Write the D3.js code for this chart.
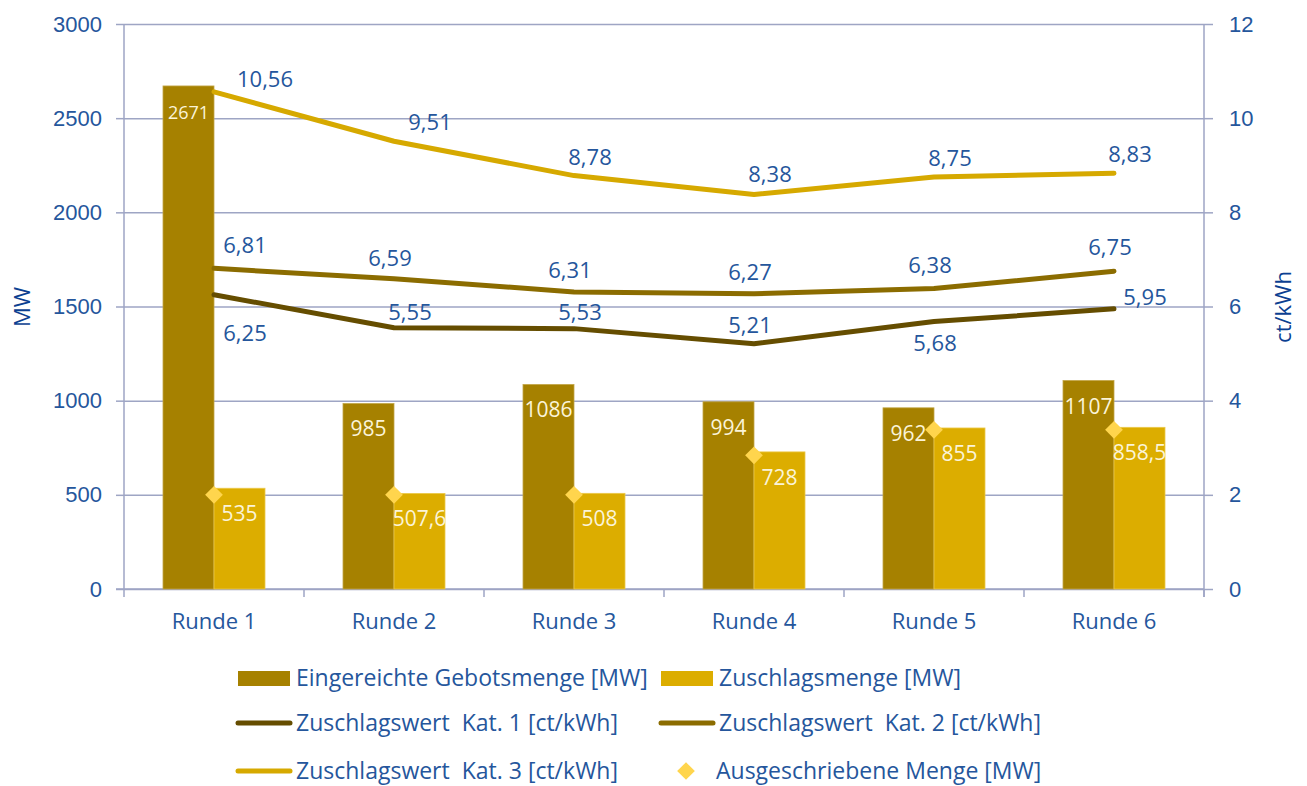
<!DOCTYPE html>
<html>
<head>
<meta charset="utf-8">
<script src="https://cdn.jsdelivr.net/npm/d3@7"></script>
<style>
  html, body { margin: 0; padding: 0; background: #fff; }
  svg { display: block; font-family: "Open Sans", sans-serif; }
</style>
</head>
<body>
<svg></svg>
<script>
var categories = ['Runde 1', 'Runde 2', 'Runde 3', 'Runde 4', 'Runde 5', 'Runde 6'];
var submitted = [2671, 985, 1086, 994, 962, 1107];
var awarded = [535, 507.6, 508, 728, 855, 858.5];
var tendered = [500, 500, 500, 710, 845, 845];
var kat1 = [6.25, 5.55, 5.53, 5.21, 5.68, 5.95];
var kat2 = [6.81, 6.59, 6.31, 6.27, 6.38, 6.75];
var kat3 = [10.56, 9.51, 8.78, 8.38, 8.75, 8.83];
var leftTicks = [0, 500, 1000, 1500, 2000, 2500, 3000];
var rightTicks = [0, 2, 4, 6, 8, 10, 12];

var W = 1307, H = 786;
var L = 124, R = 1204, T = 24, B = 589;
var BLUE = '#25569c', GRID = '#9ea5c4';
var C_DARK = '#a68100', C_LIGHT = '#dcad00', C_K1 = '#654d00', C_K2 = '#8b6c00', C_K3 = '#d6a900', C_DIA = '#ffd54d';

// label offsets [dx, dy] relative to the point, per line
var labelOff = {
    k3: [[51, -13], [36, -19], [16, -19], [16, -20], [16, -19], [16, -19]],
    k2: [[31, -23], [-4, -21], [-4, -22], [-4, -22], [-4, -24], [-4, -24]],
    k1: [[31, 38], [16, -16], [6, -17], [-4, -19], [1, 21], [31, -12]]
};

var svg = d3.select('svg').attr('width', W).attr('height', H);

var x = d3.scaleBand().domain(categories).range([L, R]).paddingInner(78 / 180).paddingOuter(39 / 180);
var xs = d3.scaleBand().domain(['a', 'b']).range([0, x.bandwidth()]);
var y = d3.scaleLinear().domain([0, 3000]).range([B, T]);
var y2 = d3.scaleLinear().domain([0, 12]).range([B, T]);
var cx = function (i) { return x(categories[i]) + x.bandwidth() / 2; };
var fmt = function (v) { return String(v).replace('.', ','); };
var fmt2 = function (v) { return v.toFixed(2).replace('.', ','); };

// grid + left axis
var yAxis = d3.axisLeft(y).tickValues(leftTicks).tickSize(8).tickPadding(14).tickFormat(d3.format('d'));
var gy = svg.append('g').attr('transform', 'translate(' + L + ',0)').call(yAxis);
gy.select('.domain').attr('stroke', GRID).attr('stroke-width', 1.5).attr('d', 'M0,' + B + 'V' + T);
gy.selectAll('.tick line').attr('stroke', GRID).attr('stroke-width', 1.5);
gy.selectAll('.tick text').attr('fill', BLUE).style('font-size', '22px');
gy.selectAll('.tick').append('line')
    .attr('x2', R - L).attr('stroke', GRID).attr('stroke-width', 1.5);

var y2Axis = d3.axisRight(y2).tickValues(rightTicks).tickSize(9).tickPadding(16);
var gy2 = svg.append('g').attr('transform', 'translate(' + R + ',0)').call(y2Axis);
gy2.select('.domain').attr('stroke', GRID).attr('stroke-width', 1.5).attr('d', 'M0,' + (B + 8) + 'V' + T);
gy2.selectAll('.tick line').attr('stroke', GRID).attr('stroke-width', 1.5);
gy2.selectAll('.tick text').attr('fill', BLUE).style('font-size', '22px');

// bottom axis
var gx = svg.append('g').attr('transform', 'translate(0,' + B + ')');
gx.append('line').attr('x1', L - 8).attr('x2', R).attr('stroke', GRID).attr('stroke-width', 1.5);
gx.selectAll('line.sep').data(d3.range(categories.length + 1)).enter().append('line')
    .attr('class', 'sep')
    .attr('x1', function (i) { return L + i * x.step(); })
    .attr('x2', function (i) { return L + i * x.step(); })
    .attr('y2', 8).attr('stroke', GRID).attr('stroke-width', 1.5);
gx.selectAll('text').data(categories).enter().append('text')
    .attr('x', function (d, i) { return cx(i); }).attr('y', 40)
    .attr('text-anchor', 'middle').attr('fill', BLUE).style('font-size', '22px')
    .text(function (d) { return d; });

// axis titles
svg.append('text').attr('transform', 'translate(30,307) rotate(-90)')
    .attr('text-anchor', 'middle').attr('fill', '#0b3f91').style('font-size', '22px').text('MW');
svg.append('text').attr('transform', 'translate(1291,307) rotate(-90)')
    .attr('text-anchor', 'middle').attr('fill', '#0b3f91').style('font-size', '22px').text('ct/kWh');

// bars
var bars = [{ key: 'a', data: submitted, color: C_DARK, edge: '#c2a647' }, { key: 'b', data: awarded, color: C_LIGHT, edge: '#ecc94a' }];
bars.forEach(function (s) {
    var g = svg.append('g');
    g.selectAll('rect').data(s.data).enter().append('rect')
        .attr('x', function (d, i) { return x(categories[i]) + xs(s.key); })
        .attr('y', function (d) { return y(d); })
        .attr('width', xs.bandwidth())
        .attr('height', function (d) { return B - y(d); })
        .attr('fill', s.color).attr('stroke', s.edge).attr('stroke-width', 0.8);
});

// lines
var line = d3.line().x(function (d, i) { return cx(i); }).y(function (d) { return y2(d); });
[[kat3, C_K3], [kat2, C_K2], [kat1, C_K1]].forEach(function (s) {
    svg.append('path').datum(s[0]).attr('d', line)
        .attr('fill', 'none').attr('stroke', s[1]).attr('stroke-width', 5)
        .attr('stroke-linecap', 'round').attr('stroke-linejoin', 'round');
});

// bar labels
bars.forEach(function (s) {
    svg.append('g').selectAll('text').data(s.data).enter().append('text')
        .attr('x', function (d, i) { return x(categories[i]) + xs(s.key) + xs.bandwidth() / 2; })
        .attr('y', function (d) { return y(d) + 33; })
        .attr('text-anchor', 'middle').attr('fill', '#fbf4d8')
        .style('font-size', function (d) { return d > 2000 ? '18px' : '21px'; })
        .text(fmt);
});

// diamonds
svg.append('g').selectAll('path').data(tendered).enter().append('path')
    .attr('d', d3.symbol(d3.symbolDiamond2, 200))
    .attr('transform', function (d, i) { return 'translate(' + cx(i) + ',' + y(d) + ')'; })
    .attr('fill', C_DIA);

// line labels
[['k3', kat3], ['k2', kat2], ['k1', kat1]].forEach(function (s) {
    svg.append('g').selectAll('text').data(s[1]).enter().append('text')
        .attr('x', function (d, i) { return cx(i) + labelOff[s[0]][i][0]; })
        .attr('y', function (d, i) { return y2(d) + labelOff[s[0]][i][1] + 8; })
        .attr('text-anchor', 'middle').attr('fill', BLUE).style('font-size', '22px')
        .text(fmt2);
});

// legend
var legend = [
    { t: 'Eingereichte Gebotsmenge [MW]', type: 'rect', c: C_DARK, x: 238, y: 678 },
    { t: 'Zuschlagsmenge [MW]', type: 'rect', c: C_LIGHT, x: 661, y: 678 },
    { t: 'Zuschlagswert  Kat. 1 [ct/kWh]', type: 'line', c: C_K1, x: 238, y: 723 },
    { t: 'Zuschlagswert  Kat. 2 [ct/kWh]', type: 'line', c: C_K2, x: 661, y: 723 },
    { t: 'Zuschlagswert  Kat. 3 [ct/kWh]', type: 'line', c: C_K3, x: 238, y: 771 },
    { t: 'Ausgeschriebene Menge [MW]', type: 'dia', c: C_DIA, x: 661, y: 771 }
];
var lg = svg.append('g').selectAll('g').data(legend).enter().append('g')
    .attr('transform', function (d) { return 'translate(' + d.x + ',' + d.y + ')'; });
lg.filter(function (d) { return d.type === 'rect'; }).append('rect')
    .attr('y', -7).attr('width', 52).attr('height', 15).attr('fill', function (d) { return d.c; });
lg.filter(function (d) { return d.type === 'line'; }).append('line')
    .attr('x2', 52).attr('stroke', function (d) { return d.c; }).attr('stroke-width', 5).attr('stroke-linecap', 'round');
lg.filter(function (d) { return d.type === 'dia'; }).append('path')
    .attr('d', d3.symbol(d3.symbolDiamond2, 200)).attr('transform', 'translate(25,0)')
    .attr('fill', function (d) { return d.c; });
lg.append('text').attr('x', function (d) { return d.type === 'dia' ? 55 : 58; }).attr('y', 8)
    .attr('fill', BLUE).style('font-size', '23px').style('white-space', 'pre')
    .text(function (d) { return d.t; });
</script>
</body>
</html>
